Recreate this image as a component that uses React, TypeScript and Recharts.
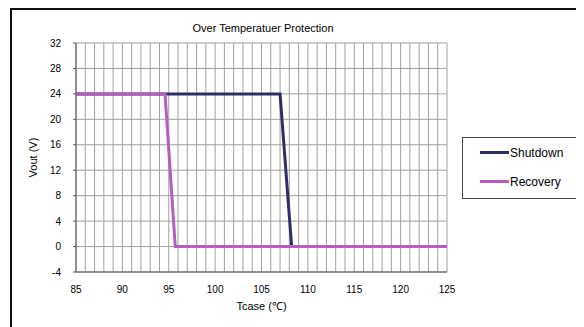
import { CartesianGrid, Line, LineChart, XAxis, YAxis } from "recharts";

// Tcase (°C) / Vout (V) breakpoints
const SHUTDOWN_T = [85, 107, 108.25, 125];
const SHUTDOWN_V = [24, 24, 0, 0];
const RECOVERY_T = [85, 94.6, 95.7, 125];
const RECOVERY_V = [24, 24, 0, 0];

const X_DOMAIN: [number, number] = [85, 125];
const X_TICKS = [85, 90, 95, 100, 105, 110, 115, 120, 125];
const X_MINOR = Array.from({ length: 41 }, (_, i) => 85 + i);
const Y_TICKS = [-4, 0, 4, 8, 12, 16, 20, 24, 28, 32];

const NAVY = "#2e2e66";
const PINK = "#b85cc0";
const FONT = "'Liberation Sans', Arial, sans-serif";

const shutdown = SHUTDOWN_T.map((t, i) => ({ t, v: SHUTDOWN_V[i] }));
const recovery = RECOVERY_T.map((t, i) => ({ t, v: RECOVERY_V[i] }));

function LegendBox() {
  const rows = [
    { name: "Shutdown", color: NAVY },
    { name: "Recovery", color: PINK },
  ];
  return (
    <div
      style={{
        position: "absolute",
        left: 454,
        top: 129,
        width: 118,
        height: 62,
        border: "1px solid #444",
        background: "#fff",
        boxSizing: "border-box",
        fontFamily: FONT,
        fontSize: 12,
        color: "#000",
        paddingTop: 7,
      }}
    >
      {rows.map((r) => (
        <div key={r.name} style={{ display: "flex", alignItems: "center", height: 15, marginBottom: 14 }}>
          <span style={{ display: "inline-block", width: 29, height: 3, background: r.color, marginLeft: 17 }} />
          <span style={{ marginLeft: 1 }}>{r.name}</span>
        </div>
      ))}
    </div>
  );
}

// one vertical grid line per degree, placed from the plot offset
const minorVerticals = ({ offset }: any) =>
  X_MINOR.map((t) => offset.left + ((t - X_DOMAIN[0]) / (X_DOMAIN[1] - X_DOMAIN[0])) * offset.width);

export default function App() {
  return (
    <div style={{ width: 576, height: 319, overflow: "hidden", position: "relative" }}>
      <div
        style={{
          position: "absolute",
          left: 2,
          top: 0,
          width: 700,
          height: 400,
          border: "2px solid #111",
          boxSizing: "border-box",
        }}
      />
      <div style={{ position: "absolute", left: 0, top: 0 }}>
        <LineChart width={576} height={319} margin={{ top: 35, right: 137, bottom: 15, left: 27 }}>
          <text x={255} y={24} textAnchor="middle" fontFamily={FONT} fontSize={11} fill="#000">
            Over Temperatuer Protection
          </text>
          <CartesianGrid stroke="#a0a0a0" strokeWidth={1} verticalCoordinatesGenerator={minorVerticals} />
          <XAxis
            type="number"
            dataKey="t"
            domain={X_DOMAIN}
            ticks={X_TICKS}
            interval={0}
            height={40}
            axisLine={{ stroke: "#555" }}
            tickLine={false}
            tickMargin={8}
            tick={{ fontFamily: FONT, fontSize: 10, fill: "#000" }}
            label={{ value: "Tcase (℃)", position: "insideBottom", offset: 2, fontFamily: FONT, fontSize: 11, fill: "#000" }}
          />
          <YAxis
            type="number"
            domain={[-4, 32]}
            ticks={Y_TICKS}
            interval={0}
            width={41}
            axisLine={{ stroke: "#555" }}
            tickLine={{ stroke: "#555" }}
            tickSize={3}
            tickMargin={12}
            tick={{ fontFamily: FONT, fontSize: 10, fill: "#000" }}
            label={{ value: "Vout (V)", angle: -90, position: "insideLeft", offset: -2, fontFamily: FONT, fontSize: 11, fill: "#000", style: { textAnchor: "middle" } }}
          />
          <Line
            data={shutdown}
            dataKey="v"
            name="Shutdown"
            stroke={NAVY}
            strokeWidth={3}
            dot={false}
            type="linear"
            isAnimationActive={false}
          />
          <Line
            data={recovery}
            dataKey="v"
            name="Recovery"
            stroke={PINK}
            strokeWidth={3}
            dot={false}
            type="linear"
            isAnimationActive={false}
          />
        </LineChart>
      </div>
      <LegendBox />
    </div>
  );
}
